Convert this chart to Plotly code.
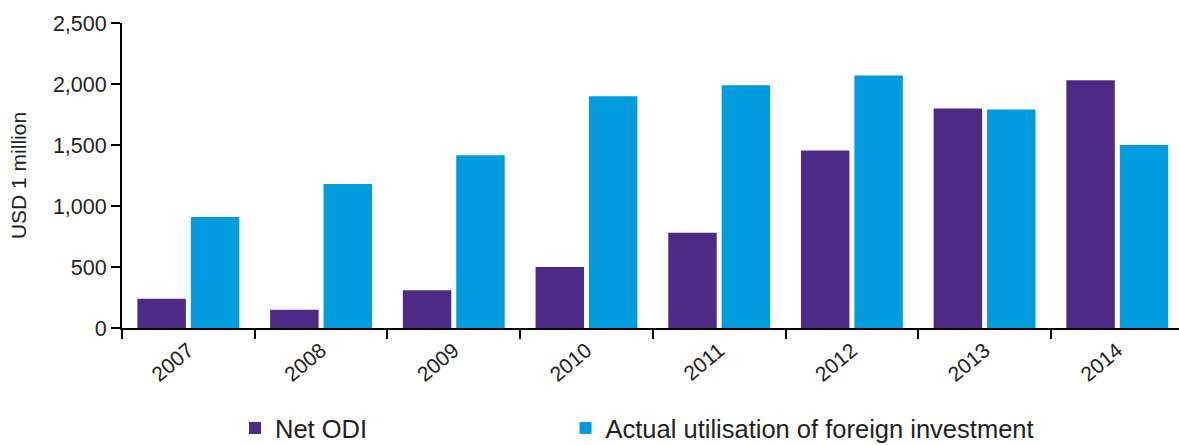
import plotly.graph_objects as go

years = ["2007", "2008", "2009", "2010", "2011", "2012", "2013", "2014"]
net_odi = [240, 150, 310, 500, 780, 1455, 1800, 2030]
foreign_investment = [910, 1180, 1415, 1900, 1990, 2070, 1790, 1500]

y_ticks = [0, 500, 1000, 1500, 2000, 2500]

PURPLE = "#4c2a85"
BLUE = "#009cde"
TEXT = "#231f20"
FONT = "Liberation Sans"

fig = go.Figure()
fig.add_trace(go.Bar(name="Net ODI", x=years, y=net_odi, legend="legend",
                     marker=dict(color=PURPLE, line=dict(width=0))))
fig.add_trace(go.Bar(name="Actual utilisation of foreign investment",
                     x=years, y=foreign_investment, legend="legend2",
                     marker=dict(color=BLUE, line=dict(width=0))))

legend_style = dict(orientation="h", xanchor="left", y=-0.329, yanchor="middle",
                    font=dict(size=25.5, color=TEXT), bgcolor="rgba(0,0,0,0)")

fig.update_layout(
    width=1179, height=445, autosize=False,
    margin=dict(l=122, r=0, t=23, b=117, pad=0, autoexpand=False),
    paper_bgcolor="white", plot_bgcolor="white",
    font=dict(family=FONT, color=TEXT, size=21),
    barmode="group", bargap=0.195, bargroupgap=0.093,
    showlegend=True,
    legend=dict(x=0.1069, **legend_style),
    legend2=dict(x=0.4196, **legend_style),
)

fig.update_xaxes(
    type="category", range=[-0.5, 7.465],
    showline=True, linecolor="black", linewidth=2,
    ticks="outside", tickson="boundaries", ticklen=9, tickwidth=2,
    tickcolor="black", tickangle=-40, showgrid=False, zeroline=False,
    tickfont=dict(size=21, color=TEXT),
)
fig.update_yaxes(
    range=[0, 2500], tickvals=y_ticks, tickformat=",",
    showline=True, linecolor="black", linewidth=2,
    ticks="outside", ticklen=9, tickwidth=2, tickcolor="black",
    showgrid=False, zeroline=False,
    tickfont=dict(size=21.5, color=TEXT),
    title=dict(text="USD 1 million", font=dict(size=21, color=TEXT), standoff=21),
)

fig.write_html("out.html")
